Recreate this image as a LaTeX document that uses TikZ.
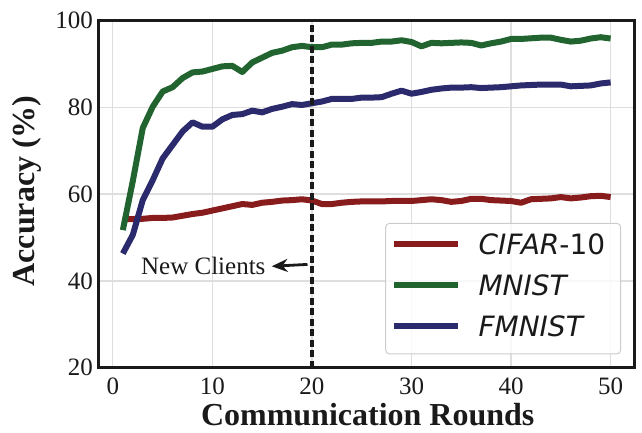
\documentclass[tikz,border=0pt]{standalone}
\usepackage{fontspec}
\setmainfont{Liberation Serif}
\newfontfamily\legendfont{DejaVu Sans}
\usetikzlibrary{arrows.meta}

\definecolor{cifarred}{RGB}{136,28,28}
\definecolor{mnistgreen}{RGB}{34,100,48}
\definecolor{fmnistblue}{RGB}{43,42,108}
\definecolor{gridgray}{RGB}{222,222,222}
\definecolor{framegray}{RGB}{26,26,26}

\tikzset{
  gridline/.style={gridgray, line width=1.2pt},
  curve/.style={line width=6pt, line join=round},
  ticklabel/.style={inner sep=0pt, text=framegray, font=\fontsize{25}{25}\selectfont},
  axislabel/.style={inner sep=0pt, text=framegray, font=\fontsize{32}{32}\selectfont\bfseries},
  legendlabel/.style={inner sep=0pt, anchor=west, text=framegray, font=\fontsize{28}{28}\selectfont\legendfont}
}

\begin{document}
\begin{tikzpicture}[x=9.954pt, y=4.344pt]
  \useasboundingbox (-11.342,5.221) rectangle (53.155,104.67);

  % grid
  \foreach \u in {0,10,...,50}
    \draw [gridline] (\u,20) -- (\u,100);
  \foreach \v in {40,60,80}
    \draw [gridline] (-1.45,\v) -- (52.45,\v);

  % curves
  \draw [curve, cifarred] plot coordinates {
    (1,54.25) (2,54.25) (3,54.3) (4,54.5) (5,54.5) (6,54.6) (7,55.0) (8,55.4) (9,55.7) (10,56.2)
    (11,56.7) (12,57.2) (13,57.7) (14,57.5) (15,58.0) (16,58.2) (17,58.5) (18,58.6) (19,58.8) (20,58.5)
    (21,57.7) (22,57.7) (23,58.0) (24,58.2) (25,58.3) (26,58.3) (27,58.3) (28,58.4) (29,58.4) (30,58.4)
    (31,58.6) (32,58.8) (33,58.6) (34,58.2) (35,58.4) (36,58.9) (37,58.9) (38,58.6) (39,58.5) (40,58.4)
    (41,58.0) (42,58.8) (43,58.9) (44,59.0) (45,59.3) (46,59.0) (47,59.2) (48,59.5) (49,59.6) (50,59.3)};
  \draw [curve, mnistgreen] plot coordinates {
    (1,51.7) (2,63.0) (3,75.2) (4,80.1) (5,83.6) (6,84.6) (7,86.7) (8,88.0) (9,88.2) (10,88.8)
    (11,89.4) (12,89.5) (13,88.1) (14,90.3) (15,91.4) (16,92.5) (17,93.0) (18,93.8) (19,94.1) (20,93.8)
    (21,93.8) (22,94.4) (23,94.4) (24,94.7) (25,94.8) (26,94.8) (27,95.1) (28,95.1) (29,95.4) (30,95.0)
    (31,94.0) (32,94.8) (33,94.7) (34,94.8) (35,94.9) (36,94.8) (37,94.2) (38,94.7) (39,95.1) (40,95.7)
    (41,95.7) (42,95.85) (43,96.0) (44,96.0) (45,95.5) (46,95.1) (47,95.3) (48,95.8) (49,96.1) (50,95.8)};
  \draw [curve, fmnistblue] plot coordinates {
    (1,46.3) (2,50.6) (3,58.6) (4,63.2) (5,68.2) (6,71.3) (7,74.4) (8,76.5) (9,75.5) (10,75.5)
    (11,77.2) (12,78.2) (13,78.4) (14,79.2) (15,78.8) (16,79.6) (17,80.1) (18,80.7) (19,80.5) (20,80.9)
    (21,81.3) (22,81.9) (23,81.9) (24,81.9) (25,82.2) (26,82.2) (27,82.3) (28,83.1) (29,83.8) (30,83.1)
    (31,83.5) (32,84.0) (33,84.3) (34,84.5) (35,84.5) (36,84.6) (37,84.4) (38,84.5) (39,84.6) (40,84.8)
    (41,85.0) (42,85.1) (43,85.2) (44,85.2) (45,85.2) (46,84.8) (47,84.9) (48,85.0) (49,85.45) (50,85.7)};

  % new clients marker
  \draw [framegray, line width=3.2pt, dash pattern=on 7pt off 3.5pt] (20,20) -- (20,100);
  \node [ticklabel, anchor=base east, inner xsep=6pt] (newclients) at (15.95,41.4) {New Clients};
  \coordinate (arrowtail) at (19.55,43.8);
  \draw [-{Stealth[length=16pt,width=13pt]}, line width=2.8pt, framegray] (arrowtail) -- (newclients.east);

  % frame
  \draw [framegray, line width=3pt] (-1.45,20) rectangle (52.45,100);

  % ticks
  \foreach \u in {0,10,...,50}
    \node [ticklabel, anchor=north, yshift=-10pt] (xtick\u) at (\u,20) {\u};
  \foreach \v in {20,40,...,100}
    \node [ticklabel, anchor=east, xshift=-5.5pt] (ytick\v) at (-1.45,\v) {\v};

  % axis labels
  \node [axislabel, anchor=base] (xlabel) at (25.6,6.7) {Communication Rounds};
  \node [axislabel, rotate=90, anchor=base] (ylabel) at (-7.83,60.7) {Accuracy (\%)};

  % legend
  \draw [fill=white, fill opacity=0.8, draw=gray!40, rounded corners=4pt, line width=1pt]
    (27.4,23.18) rectangle (51.01,53.26);
  \draw [cifarred, line width=6pt] (28.24,48.43) -- (34.67,48.43);
  \node [legendlabel] (legcifar) at (36.71,48.43) {{\itshape CIFAR}-10};
  \draw [mnistgreen, line width=6pt] (28.24,38.99) -- (34.67,38.99);
  \node [legendlabel] (legmnist) at (36.71,38.99) {\itshape MNIST};
  \draw [fmnistblue, line width=6pt] (28.24,29.62) -- (34.67,29.62);
  \node [legendlabel] (legfmnist) at (36.71,29.62) {\itshape FMNIST};
\end{tikzpicture}
\end{document}
